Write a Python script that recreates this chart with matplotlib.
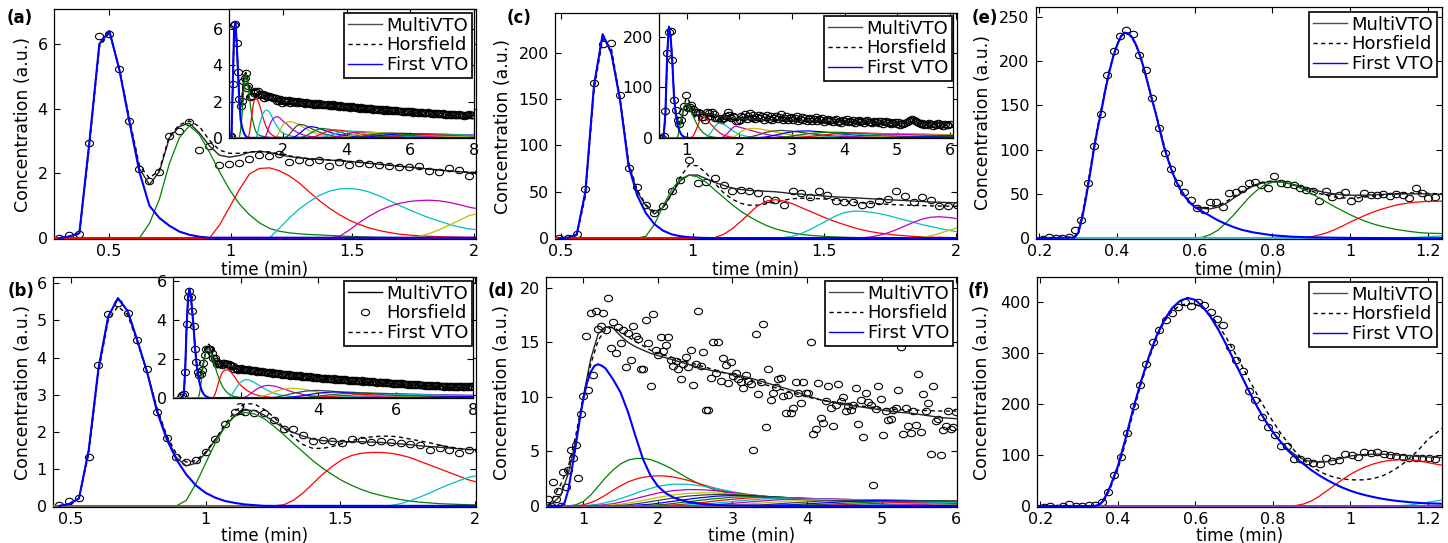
import numpy as np
import matplotlib
matplotlib.use('Agg')
import matplotlib.pyplot as plt
from matplotlib.lines import Line2D
from matplotlib.path import Path
from matplotlib.ticker import FuncFormatter

plt.rcParams['font.family'] = ['DejaVu Sans']

W, H = 1448, 543
# MATLAB default colour order (component k uses CYCLE[k % 7])
CYCLE = ['#0000ff', '#008000', '#ff0000', '#00bfbf', '#bf00bf', '#bfbf00', '#404040']
LABELS = ['MultiVTO', 'Horsfield', 'First VTO']
DASH = (0, (3, 2.5))

# ---------------------------------------------------------------- panel (a)
A_T0, A_DT = 0.296, 0.0411
A_Y = [0.00, 0.10, 0.12, 2.95, 6.24, 6.30, 5.22, 3.63, 2.14, 1.77,
       2.04, 3.14, 3.31, 3.60, 2.73, 2.86, 2.25, 2.30, 2.32, 2.45,
       2.57, 2.55, 2.61, 2.34, 2.42, 2.35, 2.42, 2.22, 2.35, 2.27,
       2.32, 2.30, 2.27, 2.24, 2.19, 2.19, 2.22, 2.06, 2.03, 2.16,
       2.09, 1.91,
       2.05, 2.10, 1.98, 2.02, 2.08, 1.95, 2.01, 1.99, 2.06, 1.93,
       1.97, 2.03, 1.90, 1.96, 2.00, 1.92, 1.88, 1.97, 1.91, 1.94,
       1.86, 1.93, 1.89, 1.84, 1.92, 1.87, 1.81, 1.90, 1.85, 1.83,
       1.88, 1.79, 1.84, 1.80, 1.86, 1.76, 1.82, 1.78, 1.85, 1.74,
       1.80, 1.77, 1.72, 1.81, 1.75, 1.70, 1.78, 1.73, 1.69, 1.76,
       1.71, 1.67, 1.74, 1.68, 1.72, 1.63, 1.70, 1.66, 1.61, 1.69,
       1.64, 1.67, 1.60, 1.65, 1.58, 1.63, 1.60, 1.66, 1.56, 1.61,
       1.58, 1.62, 1.55, 1.59, 1.53, 1.60, 1.56, 1.51, 1.57, 1.54,
       1.50, 1.55, 1.52, 1.48, 1.54, 1.49, 1.53, 1.46, 1.50, 1.47,
       1.51, 1.44, 1.48, 1.45, 1.50, 1.42, 1.46, 1.43, 1.47, 1.40,
       1.44, 1.41, 1.45, 1.38, 1.42, 1.39, 1.43, 1.36, 1.40, 1.37,
       1.41, 1.35, 1.38, 1.34, 1.39, 1.33, 1.36, 1.32, 1.37, 1.30,
       1.34, 1.31, 1.35, 1.28, 1.33, 1.29, 1.32, 1.27, 1.31, 1.28,
       1.30, 1.26, 1.29, 1.25, 1.31, 1.24, 1.27, 1.29, 1.23, 1.26,
       1.28, 1.25, 1.30, 1.27, 1.24, 1.28]
A_FIT_N = 42
A_FIT_T_EXTRA = [2.5, 3.0, 3.5, 4.0, 4.5, 5.0, 5.5, 6.0, 6.5, 7.0, 7.5, 8.0]
A_MULTI = [0.00, 0.05, 0.15, 2.95, 6.00, 6.40, 5.20, 3.60, 2.15, 1.65,
           2.05, 3.10, 3.45, 3.55, 3.25, 2.85, 2.56, 2.50, 2.55, 2.65,
           2.68, 2.65, 2.57, 2.52, 2.48, 2.45, 2.43, 2.41, 2.39, 2.37,
           2.34, 2.31, 2.28, 2.25, 2.22, 2.19, 2.16, 2.13, 2.10, 2.07,
           2.05, 2.03,
           1.93, 1.86, 1.80, 1.72, 1.65, 1.58, 1.52, 1.46, 1.40, 1.35, 1.30, 1.26]
A_HORS = [0.00, 0.05, 0.12, 2.85, 5.90, 6.35, 5.25, 3.70, 2.25, 1.85,
          2.10, 3.15, 3.50, 3.62, 3.45, 3.02, 2.72, 2.62, 2.62, 2.66,
          2.68, 2.66, 2.60, 2.54, 2.49, 2.45, 2.43, 2.41, 2.39, 2.37,
          2.34, 2.31, 2.28, 2.25, 2.22, 2.19, 2.16, 2.13, 2.10, 2.07,
          2.05, 2.03,
          1.93, 1.86, 1.80, 1.72, 1.65, 1.58, 1.52, 1.46, 1.40, 1.35, 1.30, 1.26]
A_VTO = [0.00, 0.05, 0.15, 2.95, 6.00, 6.40, 5.20, 3.60, 2.05, 1.00,
         0.62, 0.38, 0.20, 0.10, 0.04, 0.01]
A_COMPS = [
    ([0.625, 0.666, 0.707, 0.748, 0.789, 0.830, 0.871, 0.913, 0.954, 0.995, 1.036,
      1.077, 1.118, 1.159, 1.200, 1.241, 1.282, 1.324, 1.406, 1.488, 1.611, 1.8],
     [0, 0.45, 1.2, 2.3, 3.1, 3.47, 3.2, 2.65, 2.05, 1.5, 1.05,
      0.72, 0.47, 0.3, 0.21, 0.16, 0.13, 0.11, 0.08, 0.05, 0.02, 0.005]),
    ([0.913, 0.954, 0.995, 1.036, 1.077, 1.118, 1.159, 1.200, 1.241, 1.282, 1.324, 1.365,
      1.406, 1.447, 1.488, 1.529, 1.570, 1.611, 1.652, 1.693, 1.734, 1.776, 1.858, 1.981, 2.3],
     [0, 0.4, 0.95, 1.5, 1.98, 2.15, 2.17, 2.08, 1.92, 1.7, 1.42, 1.15,
      0.92, 0.72, 0.55, 0.42, 0.31, 0.23, 0.17, 0.12, 0.09, 0.07, 0.04, 0.02, 0]),
    ([1.159, 1.200, 1.241, 1.282, 1.324, 1.365, 1.406, 1.447, 1.488, 1.529, 1.570, 1.611,
      1.652, 1.693, 1.734, 1.776, 1.817, 1.858, 1.899, 1.940, 1.981, 2.2, 2.4, 2.6, 3.0],
     [0, 0.3, 0.62, 0.9, 1.13, 1.32, 1.45, 1.52, 1.53, 1.5, 1.42, 1.3,
      1.16, 1.01, 0.87, 0.74, 0.62, 0.52, 0.42, 0.34, 0.28, 0.13, 0.06, 0.03, 0]),
    ([1.406, 1.447, 1.488, 1.529, 1.570, 1.611, 1.652, 1.693, 1.734, 1.776, 1.817, 1.858,
      1.899, 1.940, 1.981, 2.1, 2.2, 2.3, 2.45, 2.6, 2.8, 3.0, 3.4],
     [0, 0.05, 0.25, 0.48, 0.68, 0.85, 0.98, 1.07, 1.13, 1.16, 1.17, 1.15,
      1.1, 1.03, 0.95, 0.8, 0.62, 0.47, 0.3, 0.19, 0.1, 0.05, 0.01]),
    ([1.734, 1.776, 1.817, 1.858, 1.899, 1.940, 1.981, 2.1, 2.2, 2.3, 2.45, 2.6, 2.8,
      3.0, 3.3, 3.7, 4.2],
     [0, 0.06, 0.14, 0.26, 0.4, 0.55, 0.7, 0.86, 0.9, 0.88, 0.78, 0.62, 0.42,
      0.27, 0.13, 0.05, 0.01]),
    ([2.0, 2.1, 2.2, 2.3, 2.4, 2.5, 2.65, 2.8, 3.0, 3.3, 3.6, 4.0, 4.6],
     [0, 0.05, 0.2, 0.42, 0.62, 0.75, 0.72, 0.6, 0.42, 0.22, 0.1, 0.04, 0.01]),
    ([2.25, 2.4, 2.55, 2.7, 2.85, 3.05, 3.3, 3.6, 4.0, 4.5, 5.2],
     [0, 0.1, 0.3, 0.52, 0.63, 0.58, 0.42, 0.25, 0.11, 0.04, 0.01]),
    ([2.5, 2.7, 2.9, 3.05, 3.2, 3.45, 3.75, 4.1, 4.6, 5.2],
     [0, 0.1, 0.3, 0.45, 0.53, 0.48, 0.33, 0.18, 0.07, 0.02]),
    ([2.8, 3.0, 3.2, 3.4, 3.6, 3.9, 4.2, 4.6, 5.1, 5.8],
     [0, 0.08, 0.22, 0.37, 0.45, 0.41, 0.3, 0.17, 0.08, 0.02]),
    ([3.1, 3.35, 3.6, 3.8, 4.0, 4.35, 4.7, 5.1, 5.7, 6.5],
     [0, 0.08, 0.22, 0.33, 0.39, 0.36, 0.27, 0.16, 0.07, 0.02]),
    ([3.4, 3.7, 3.95, 4.2, 4.45, 4.85, 5.25, 5.7, 6.3, 7.2],
     [0, 0.08, 0.2, 0.3, 0.34, 0.31, 0.23, 0.14, 0.07, 0.02]),
    ([3.7, 4.0, 4.3, 4.6, 4.9, 5.35, 5.8, 6.3, 7.0, 8.0],
     [0, 0.07, 0.18, 0.27, 0.3, 0.28, 0.21, 0.13, 0.06, 0.02]),
    ([4.0, 4.35, 4.7, 5.05, 5.4, 5.9, 6.4, 7.0, 8.0],
     [0, 0.06, 0.16, 0.24, 0.27, 0.25, 0.19, 0.12, 0.05]),
    ([4.3, 4.7, 5.1, 5.5, 5.9, 6.5, 7.1, 8.0],
     [0, 0.06, 0.15, 0.21, 0.24, 0.22, 0.17, 0.1]),
    ([4.6, 5.0, 5.5, 5.95, 6.4, 7.0, 7.6, 8.0],
     [0, 0.05, 0.13, 0.19, 0.22, 0.21, 0.17, 0.14]),
    ([4.9, 5.4, 5.9, 6.5, 7.0, 7.6, 8.0],
     [0, 0.05, 0.12, 0.18, 0.2, 0.19, 0.17]),
    ([5.2, 5.8, 6.4, 7.0, 7.6, 8.0], [0, 0.05, 0.11, 0.16, 0.18, 0.18]),
    ([5.6, 6.2, 6.8, 7.4, 8.0], [0, 0.04, 0.09, 0.13, 0.15]),
    ([6.0, 6.6, 7.2, 8.0], [0, 0.03, 0.07, 0.11]),
]

# ---------------------------------------------------------------- panel (b)
B_T0, B_DT = 0.457, 0.0362
B_Y = [0.03, 0.13, 0.21, 1.31, 3.79, 5.17, 5.47, 5.2, 4.46, 3.68,
       2.53, 1.82, 1.32, 1.17, 1.23, 1.46, 1.8, 2.2, 2.53, 2.53,
       2.51, 2.5, 2.32, 2.07, 2.07, 1.91, 1.75, 1.78, 1.75, 1.69,
       1.8, 1.78, 1.73, 1.74, 1.73, 1.69, 1.66, 1.64, 1.5, 1.55,
       1.51, 1.42, 1.5,
       1.52, 1.46, 1.50, 1.45, 1.41, 1.48, 1.43, 1.39, 1.44, 1.38,
       1.42, 1.35, 1.40, 1.37, 1.33, 1.38, 1.31, 1.35, 1.32, 1.29,
       1.33, 1.28, 1.31, 1.24, 1.29, 1.26, 1.22, 1.27, 1.24, 1.20,
       1.25, 1.19, 1.22, 1.18, 1.21, 1.15, 1.20, 1.16, 1.13, 1.18,
       1.14, 1.11, 1.16, 1.10, 1.13, 1.08, 1.12, 1.09, 1.06, 1.11,
       1.07, 1.04, 1.09, 1.03, 1.06, 1.01, 1.05, 1.02, 0.99, 1.04,
       1.00, 0.97, 1.02, 0.96, 0.99, 0.95, 1.00, 0.94, 0.97, 0.93,
       0.98, 0.92, 0.95, 0.91, 0.96, 0.90, 0.93, 0.89, 0.94, 0.88,
       0.91, 0.87, 0.92, 0.86, 0.89, 0.85, 0.90, 0.84, 0.87, 0.85,
       0.88, 0.82, 0.86, 0.81, 0.85, 0.80, 0.84, 0.79, 0.83, 0.80,
       0.82, 0.77, 0.81, 0.76, 0.80, 0.75, 0.79, 0.76, 0.74, 0.78,
       0.74, 0.77, 0.72, 0.75, 0.71, 0.76, 0.70, 0.73, 0.71, 0.69,
       0.73, 0.68, 0.71, 0.67, 0.70, 0.66, 0.71, 0.65, 0.68, 0.66,
       0.69, 0.64, 0.67, 0.63, 0.66, 0.62, 0.67, 0.61, 0.64, 0.62,
       0.65, 0.60, 0.63, 0.59, 0.64, 0.58, 0.62, 0.60, 0.57, 0.61,
       0.63, 0.58, 0.60, 0.56, 0.61, 0.57, 0.59, 0.62, 0.58, 0.56,
       0.60, 0.57, 0.61, 0.58, 0.62, 0.59]
B_FIT_N = 43
B_FIT_T_EXTRA = [2.5, 3.0, 3.5, 4.0, 4.5, 5.0, 5.5, 6.0, 6.5, 7.0, 7.5, 8.0]
B_MULTI = [0, 0.05, 0.2, 1.5, 3.7, 5.1, 5.6, 5.25, 4.45, 3.6,
           2.6, 1.85, 1.3, 1.08, 1.15, 1.42, 1.78, 2.15, 2.45, 2.58,
           2.57, 2.45, 2.27, 2.1, 1.98, 1.88, 1.8, 1.76, 1.74, 1.73,
           1.73, 1.73, 1.72, 1.71, 1.69, 1.67, 1.65, 1.62, 1.6, 1.58,
           1.56, 1.54, 1.52,
           1.38, 1.24, 1.13, 1.04, 0.97, 0.9, 0.84, 0.78, 0.72, 0.67, 0.62, 0.59]
B_HORS = [0, 0.05, 0.2, 1.4, 3.6, 5.0, 5.38, 5.15, 4.4, 3.6,
          2.65, 1.9, 1.4, 1.18, 1.22, 1.45, 1.8, 2.2, 2.55, 2.75,
          2.75, 2.6, 2.4, 2.1, 1.85, 1.65, 1.55, 1.55, 1.6, 1.68,
          1.76, 1.82, 1.86, 1.88, 1.88, 1.85, 1.8, 1.75, 1.7, 1.64,
          1.59, 1.55, 1.52,
          1.4, 1.25, 1.14, 1.05, 0.97, 0.9, 0.84, 0.78, 0.72, 0.67, 0.63, 0.6]
B_VTO = [0, 0.05, 0.2, 1.5, 3.7, 5.1, 5.6, 5.25, 4.45, 3.6,
         2.55, 1.8, 1.25, 0.85, 0.55, 0.35, 0.22, 0.13, 0.08, 0.04, 0.02, 0]
B_COMPS = [
    ([0.891, 0.928, 0.964, 1.000, 1.036, 1.073, 1.109, 1.145, 1.181, 1.217, 1.253, 1.290,
      1.326, 1.362, 1.398, 1.434, 1.471, 1.507, 1.543, 1.579, 1.615, 1.652, 1.688, 1.724,
      1.760, 1.796, 1.869, 1.941, 1.977, 2.1, 2.4],
     [0, 0.15, 0.6, 1.15, 1.7, 2.15, 2.42, 2.52, 2.48, 2.35, 2.15, 1.92,
      1.68, 1.45, 1.22, 1.02, 0.84, 0.68, 0.55, 0.44, 0.35, 0.28, 0.22, 0.17,
      0.13, 0.1, 0.06, 0.04, 0.03, 0.02, 0]),
    ([1.253, 1.290, 1.326, 1.362, 1.398, 1.434, 1.471, 1.507, 1.543, 1.579, 1.615, 1.652,
      1.688, 1.724, 1.760, 1.796, 1.833, 1.869, 1.905, 1.941, 1.977, 2.05, 2.15, 2.3,
      2.5, 2.8, 3.2],
     [0, 0.03, 0.15, 0.35, 0.6, 0.85, 1.07, 1.25, 1.36, 1.42, 1.44, 1.44,
      1.42, 1.37, 1.3, 1.2, 1.1, 1.0, 0.9, 0.8, 0.7, 0.56, 0.4, 0.23,
      0.1, 0.03, 0]),
    ([1.652, 1.688, 1.724, 1.760, 1.796, 1.833, 1.869, 1.905, 1.941, 1.977, 2.05, 2.12,
      2.2, 2.3, 2.45, 2.6, 2.8, 3.0, 3.3, 3.7, 4.2],
     [0, 0.01, 0.06, 0.14, 0.24, 0.35, 0.47, 0.58, 0.68, 0.77, 0.88, 0.94,
      0.93, 0.85, 0.68, 0.49, 0.29, 0.16, 0.07, 0.02, 0]),
    ([2.0, 2.1, 2.2, 2.3, 2.45, 2.6, 2.72, 2.9, 3.1, 3.35, 3.7, 4.1, 4.6],
     [0, 0.04, 0.14, 0.3, 0.5, 0.62, 0.65, 0.6, 0.47, 0.3, 0.14, 0.05, 0.01]),
    ([2.35, 2.5, 2.7, 2.9, 3.1, 3.3, 3.55, 3.85, 4.2, 4.6, 5.1, 5.6],
     [0, 0.05, 0.18, 0.34, 0.45, 0.5, 0.47, 0.36, 0.22, 0.11, 0.04, 0.01]),
    ([2.7, 2.9, 3.15, 3.4, 3.7, 3.95, 4.3, 4.7, 5.2, 5.8, 6.5],
     [0, 0.04, 0.14, 0.26, 0.36, 0.39, 0.36, 0.27, 0.16, 0.07, 0.02]),
    ([3.0, 3.3, 3.6, 3.9, 4.2, 4.5, 4.9, 5.4, 6.0, 6.7, 7.5],
     [0, 0.04, 0.12, 0.22, 0.29, 0.31, 0.29, 0.22, 0.13, 0.06, 0.02]),
    ([3.3, 3.7, 4.1, 4.5, 4.9, 5.3, 5.8, 6.4, 7.1, 8.0],
     [0, 0.04, 0.12, 0.2, 0.25, 0.26, 0.23, 0.16, 0.09, 0.04]),
    ([3.6, 4.0, 4.5, 5.0, 5.5, 6.0, 6.6, 7.3, 8.0],
     [0, 0.03, 0.1, 0.17, 0.21, 0.22, 0.19, 0.13, 0.08]),
    ([4.0, 4.5, 5.0, 5.6, 6.2, 6.8, 7.4, 8.0],
     [0, 0.03, 0.08, 0.14, 0.18, 0.18, 0.16, 0.12]),
    ([4.4, 5.0, 5.6, 6.2, 6.9, 7.5, 8.0], [0, 0.03, 0.07, 0.11, 0.14, 0.15, 0.14]),
    ([4.8, 5.5, 6.2, 6.9, 7.5, 8.0], [0, 0.03, 0.06, 0.09, 0.11, 0.12]),
    ([5.3, 6.0, 6.7, 7.4, 8.0], [0, 0.02, 0.05, 0.08, 0.1]),
    ([5.8, 6.6, 7.3, 8.0], [0, 0.02, 0.05, 0.07]),
]

# ---------------------------------------------------------------- panel (c)
C_T0, C_DT = 0.494, 0.0328
C_Y = [0, 0, 4.7, 53, 167, 209, 211, 154, 76, 55,
       35.5, 27, 35, 50.5, 63, 84, 59.5, 60.6, 65, 57,
       50.5, 52.3, 51.3, 48.7, 42.3, 41.6, 36.2, 50.5, 48.7, 44.4,
       50.5, 47, 39.8, 39, 39, 35.5, 37.3, 39.8, 42.7, 50.5,
       45.2, 38.7, 44.4, 40.9, 34.4, 34.4, 36.2,
       44, 41, 47, 38, 43, 49, 40, 45, 37, 42,
       46, 39, 44, 36, 41, 45, 38, 43, 35, 40,
       44, 37, 41, 47, 36, 40, 43, 35, 39, 42,
       36, 40, 44, 34, 38, 41, 35, 39, 33, 37,
       40, 34, 38, 42, 33, 37, 35, 39, 32, 36,
       38, 33, 36, 31, 35, 38, 32, 34, 30, 36,
       33, 37, 31, 34, 32, 36, 30, 33, 35, 31,
       34, 30, 33, 36, 31, 32, 29, 34, 31, 33,
       30, 33, 28, 32, 34, 29, 31, 27, 30, 32,
       28, 31, 26, 29, 27, 30, 32, 34, 36, 38,
       36, 34, 31, 29, 27, 30, 26, 28, 25, 29,
       27, 24, 28, 26, 29, 25, 27, 23, 28, 26,
       25, 27]
C_FIT_N = 47
C_FIT_T_EXTRA = [2.5, 3.0, 3.5, 4.0, 4.5, 5.0, 5.5, 6.0]
C_MULTI = [0, 0.5, 4, 50, 165, 220, 200, 150, 80, 50,
           35, 26, 33, 48, 62, 68, 68, 64, 60, 57,
           54, 52.5, 51.5, 51, 50.5, 50, 49, 48, 47.5, 46.5,
           46, 45, 44.5, 44, 43.5, 43, 42.5, 42, 41.5, 41,
           40.5, 40, 39.5, 39, 38.7, 38.4, 38,
           36, 34.5, 33, 32, 31, 30, 29, 28]
C_HORS = [0, 0.5, 3, 45, 160, 215, 205, 152, 82, 52,
          36, 28, 33, 47, 66, 79, 78, 70, 59, 49,
          42, 37.5, 35.5, 35.5, 37, 39, 41, 42.5, 43, 43,
          42.5, 42, 41, 40, 39, 38, 37.5, 37, 36.5, 36,
          35.5, 35.3, 35, 34.8, 34.6, 34.5, 34.4,
          34, 33.5, 32.5, 31.5, 30.5, 29.5, 28.8, 28]
C_VTO = [0, 0.5, 4, 50, 165, 220, 200, 150, 78, 46,
         27, 15, 8, 4, 2, 1, 0.4, 0.1, 0]
C_COMPS = [
    ([0.789, 0.822, 0.855, 0.888, 0.920, 0.953, 0.986, 1.019, 1.052, 1.084, 1.117, 1.150,
      1.183, 1.216, 1.248, 1.281, 1.314, 1.347, 1.380, 1.412, 1.445, 1.511, 1.609, 1.740, 2.0],
     [0, 2, 15, 35, 52, 64, 68, 66, 60, 52, 44, 36,
      29, 23, 18, 13.5, 10, 7.5, 5.5, 4, 3, 1.6, 0.6, 0.15, 0]),
    ([1.052, 1.084, 1.117, 1.150, 1.183, 1.216, 1.248, 1.281, 1.314, 1.347, 1.380, 1.412,
      1.445, 1.478, 1.511, 1.544, 1.576, 1.609, 1.642, 1.675, 1.708, 1.773, 1.839, 1.904,
      2.003, 2.3],
     [0, 0.5, 4, 10, 18, 27, 35, 40, 41.5, 40, 37, 33,
      29, 25, 21, 17.5, 14.5, 11.5, 9, 7, 5.5, 3.2, 1.8, 1,
      0.4, 0]),
    ([1.314, 1.347, 1.380, 1.412, 1.445, 1.478, 1.511, 1.544, 1.576, 1.609, 1.642, 1.675,
      1.708, 1.740, 1.773, 1.806, 1.839, 1.872, 1.904, 1.937, 1.970, 2.003, 2.1, 2.25,
      2.45, 2.8],
     [0, 0.5, 2, 5, 9, 14, 19, 24, 27.5, 29, 29, 28,
      26.5, 24.5, 22, 19.5, 17, 14.5, 12.5, 10.5, 8.5, 7, 4, 1.8,
      0.6, 0]),
    ([1.609, 1.642, 1.675, 1.708, 1.740, 1.773, 1.806, 1.839, 1.872, 1.904, 1.937, 1.970,
      2.003, 2.05, 2.15, 2.3, 2.45, 2.6, 2.8, 3.1, 3.5, 4.0],
     [0, 0.3, 1.2, 3, 5.5, 9, 13, 17, 20.5, 22.5, 23, 22.3,
      21, 20, 17, 12.5, 8.5, 5.5, 3, 1.2, 0.4, 0]),
    ([1.839, 1.872, 1.904, 1.937, 1.970, 2.003, 2.05, 2.15, 2.25, 2.35, 2.5, 2.65,
      2.85, 3.1, 3.4, 3.8, 4.4, 5.0],
     [0, 0.8, 2.5, 5, 8, 11, 14, 17.5, 19, 18.5, 16, 12.5,
      8.5, 5, 2.6, 1, 0.3, 0]),
    ([2.05, 2.2, 2.35, 2.5, 2.65, 2.8, 3.0, 3.25, 3.55, 3.9, 4.4, 5.0],
     [0, 2, 6, 11, 14, 15, 13.5, 10, 6, 3, 1.2, 0.4]),
    ([2.3, 2.5, 2.7, 2.9, 3.1, 3.3, 3.6, 3.9, 4.3, 4.8, 5.5, 6.06],
     [0, 2, 6, 10.5, 13.5, 14, 12, 8.5, 5, 2.4, 0.9, 0.5]),
    ([2.6, 2.85, 3.1, 3.35, 3.6, 3.85, 4.2, 4.6, 5.1, 5.7, 6.06],
     [0, 2, 5.5, 9, 11, 11.5, 10, 7, 4, 2, 1.3]),
    ([2.9, 3.2, 3.5, 3.8, 4.1, 4.4, 4.8, 5.3, 5.8, 6.06],
     [0, 1.8, 5, 8, 9.5, 9.8, 8.5, 6, 3.8, 3]),
    ([3.2, 3.55, 3.9, 4.25, 4.6, 5.0, 5.5, 6.06], [0, 1.5, 4.2, 6.8, 8.2, 8.5, 7.3, 5.3]),
    ([3.5, 3.9, 4.3, 4.7, 5.1, 5.5, 6.06], [0, 1.3, 3.6, 5.8, 7, 7.3, 6.5]),
    ([3.9, 4.3, 4.8, 5.3, 5.8, 6.06], [0, 1.1, 3.2, 5.2, 6.2, 6.4]),
    ([4.2, 4.7, 5.2, 5.7, 6.06], [0, 1, 2.8, 4.4, 5.2]),
    ([4.6, 5.1, 5.6, 6.06], [0, 0.9, 2.4, 3.6]),
    ([5.0, 5.5, 6.06], [0, 0.8, 2.2]),
]

# ---------------------------------------------------------------- panel (d)
D_T0, D_DT = 0.53, 0.0335
D_Y = [0.6, 0.0, 2.2, 0.6, 1.4, 0.0, 3.1, 1.7, 3.3, 5.1,
       4.4, 5.6, 2.6, 8.4, 10.1, 15.6, 10.6, 17.7, 12.0, 17.9,
       16.2, 16.5, 17.7, 16.1, 19.1, 14.5, 16.9, 14.0, 16.4, 14.9,
       16.1, 12.7, 15.9, 13.4, 16.5, 15.6, 15.3, 12.6, 12.6, 17.1,
       14.9, 11.0, 17.6, 14.3, 13.8, 15.5, 14.2, 14.8, 15.5, 13.4,
       12.8, 13.3, 12.6, 11.6, 13.0, 13.7, 12.7, 14.3, 11.1, 13.0,
       17.9, 12.8, 14.1, 8.8, 8.8, 11.7, 15.0, 12.2, 15.0, 11.5,
       13.6, 12.9, 11.3, 13.2, 11.9, 12.2, 11.6, 11.4, 10.8, 12.0,
       11.5, 11.2, 5.1, 15.8, 10.3, 11.4, 16.7, 7.2, 12.6, 9.7,
       10.4, 10.9, 11.6, 11.7, 10.1, 8.5, 10.2, 8.5, 9.0, 11.4,
       10.4, 9.4, 11.4, 10.4, 10.4, 15.0, 6.6, 7.1, 11.3, 8.1,
       7.6, 9.6, 11.0, 9.0, 7.3, 9.3, 11.2, 9.6, 10.0, 8.7,
       9.2, 8.8, 9.3, 10.8, 7.5, 9.7, 6.3, 10.4, 9.5, 9.3,
       1.9, 8.9, 11.0, 9.8, 6.5, 8.7, 7.9, 8.0, 8.8, 9.0,
       10.6, 14.6, 6.6, 9.0, 7.3, 6.7, 8.7, 7.4, 12.1, 6.8,
       10.3, 8.7, 9.4, 4.8, 11.0, 7.8, 8.0, 4.7, 7.0, 7.3,
       8.7, 7.1, 7.2, 8.6]
D_FIT_T = [0.53, 0.6, 0.7, 0.8, 0.9, 1.0, 1.1, 1.2, 1.3, 1.35, 1.4, 1.5, 1.6, 1.7, 1.8,
           1.9, 2.0, 2.2, 2.4, 2.6, 2.8, 3.0, 3.2, 3.4, 3.6, 3.8, 4.0, 4.2, 4.4, 4.6,
           4.8, 5.0, 5.2, 5.4, 5.6, 5.8, 6.0]
D_MULTI = [0, 0.3, 1.0, 3.0, 6.0, 10.0, 13.5, 15.8, 16.4, 16.45, 16.3, 15.6, 15.0, 14.6,
           14.3, 14.0, 13.8, 13.4, 13.0, 12.6, 12.3, 12.1, 11.8, 11.4, 11.0, 10.6, 10.1,
           9.7, 9.4, 9.2, 9.0, 8.8, 8.6, 8.5, 8.3, 8.1, 8.0]
D_HORS = [0, 0.8, 2.0, 3.6, 6.5, 10.0, 13.0, 15.2, 16.2, 16.35, 16.4, 16.0, 15.5, 15.1,
          14.7, 14.3, 14.0, 13.6, 13.2, 12.8, 12.4, 12.0, 11.6, 11.2, 10.8, 10.4, 10.0,
          9.7, 9.5, 9.3, 9.1, 8.95, 8.85, 8.8, 8.75, 8.7, 8.7]
D_VTO_T = [0.53, 0.7, 0.75, 0.8, 0.85, 0.9, 0.95, 1.0, 1.05, 1.1, 1.15, 1.2, 1.25, 1.3,
           1.4, 1.5, 1.6, 1.7, 1.8, 1.9, 2.0, 2.1, 2.2, 2.3, 2.4, 2.6, 2.8, 3.0, 3.5, 6.0]
D_VTO = [0, 0, 0.3, 1.5, 3.5, 5.6, 7.8, 9.8, 11.3, 12.3, 12.85, 13.0, 12.85, 12.6,
         11.6, 10.4, 8.6, 6.4, 4.3, 2.8, 1.8, 1.2, 0.8, 0.55, 0.38, 0.18, 0.08, 0.04, 0.01, 0]
D_COMPS = [
    ([0.8, 0.9, 1.0, 1.1, 1.2, 1.3, 1.4, 1.5, 1.6, 1.7, 1.8, 1.9, 2.0, 2.1, 2.2, 2.3, 2.4,
      2.5, 2.6, 2.8, 3.0, 3.2, 3.5, 4.0, 4.5, 5.0, 5.5, 6.0],
     [0, 0.1, 0.4, 1.0, 1.8, 2.6, 3.3, 3.85, 4.2, 4.35, 4.36, 4.25, 4.0, 3.7, 3.35, 2.95,
      2.55, 2.2, 1.88, 1.4, 1.1, 0.9, 0.7, 0.55, 0.48, 0.44, 0.42, 0.4]),
    ([0.9, 1.0, 1.1, 1.2, 1.3, 1.4, 1.5, 1.6, 1.7, 1.8, 1.9, 2.0, 2.1, 2.2, 2.3, 2.4, 2.6,
      2.8, 3.0, 3.2, 3.5, 4.0, 4.5, 5.0, 6.0],
     [0, 0.1, 0.3, 0.6, 1.0, 1.45, 1.85, 2.2, 2.45, 2.62, 2.72, 2.76, 2.74, 2.66, 2.52,
      2.35, 1.95, 1.55, 1.22, 0.98, 0.75, 0.55, 0.45, 0.4, 0.35]),
    ([1.0, 1.2, 1.4, 1.6, 1.8, 2.0, 2.2, 2.4, 2.6, 2.8, 3.0, 3.2, 3.5, 4.0, 4.5, 5.0, 6.0],
     [0.02, 0.15, 0.45, 0.9, 1.4, 1.8, 2.0, 1.98, 1.82, 1.58, 1.3, 1.07, 0.82, 0.58, 0.47,
      0.41, 0.36]),
    ([1.0, 1.2, 1.4, 1.6, 1.8, 2.0, 2.2, 2.4, 2.6, 2.8, 3.0, 3.2, 3.5, 4.0, 4.5, 5.0, 6.0],
     [0, 0.05, 0.2, 0.5, 0.85, 1.18, 1.4, 1.5, 1.48, 1.38, 1.22, 1.05, 0.85, 0.62, 0.5,
      0.43, 0.36]),
    ([1.2, 1.4, 1.6, 1.8, 2.0, 2.2, 2.4, 2.6, 2.8, 3.0, 3.2, 3.5, 4.0, 4.5, 5.0, 6.0],
     [0.01, 0.08, 0.25, 0.5, 0.78, 1.0, 1.15, 1.2, 1.18, 1.1, 1.0, 0.85, 0.65, 0.52, 0.45,
      0.38]),
    ([1.4, 1.6, 1.8, 2.0, 2.2, 2.4, 2.6, 2.8, 3.0, 3.2, 3.5, 4.0, 4.5, 5.0, 6.0],
     [0.02, 0.1, 0.28, 0.5, 0.72, 0.9, 1.0, 1.05, 1.03, 0.97, 0.85, 0.67, 0.55, 0.47, 0.4]),
    ([1.6, 1.9, 2.2, 2.5, 2.8, 3.0, 3.3, 3.7, 4.2, 5.0, 6.0],
     [0.02, 0.15, 0.42, 0.7, 0.9, 0.95, 0.9, 0.76, 0.6, 0.45, 0.36]),
    ([1.8, 2.1, 2.4, 2.7, 3.0, 3.2, 3.6, 4.0, 4.6, 5.3, 6.0],
     [0.02, 0.14, 0.38, 0.62, 0.8, 0.85, 0.8, 0.68, 0.54, 0.44, 0.38]),
    ([2.0, 2.3, 2.6, 2.9, 3.2, 3.4, 3.8, 4.3, 5.0, 6.0],
     [0.02, 0.12, 0.32, 0.55, 0.72, 0.78, 0.74, 0.63, 0.5, 0.4]),
    ([2.2, 2.5, 2.8, 3.1, 3.4, 3.6, 4.0, 4.5, 5.2, 6.0],
     [0.01, 0.1, 0.27, 0.47, 0.63, 0.7, 0.68, 0.6, 0.49, 0.41]),
    ([2.4, 2.8, 3.2, 3.6, 3.9, 4.4, 5.0, 6.0], [0.01, 0.12, 0.35, 0.56, 0.64, 0.61, 0.53, 0.42]),
    ([2.7, 3.1, 3.5, 3.9, 4.2, 4.7, 5.3, 6.0], [0.01, 0.12, 0.32, 0.5, 0.58, 0.57, 0.51, 0.44]),
    ([3.0, 3.4, 3.8, 4.2, 4.5, 5.0, 5.6, 6.0], [0.01, 0.1, 0.28, 0.45, 0.52, 0.52, 0.48, 0.45]),
    ([3.3, 3.8, 4.2, 4.6, 4.9, 5.5, 6.0], [0.01, 0.11, 0.27, 0.42, 0.48, 0.48, 0.46]),
    ([3.6, 4.1, 4.6, 5.1, 5.5, 6.0], [0.01, 0.1, 0.27, 0.4, 0.45, 0.46]),
    ([3.9, 4.4, 4.9, 5.4, 6.0], [0.01, 0.08, 0.22, 0.35, 0.43]),
    ([4.2, 4.8, 5.3, 6.0], [0, 0.07, 0.18, 0.33]),
    ([4.6, 5.2, 6.0], [0, 0.06, 0.22]),
    ([5.0, 5.5, 6.0], [0, 0.04, 0.12]),
    ([5.4, 6.0], [0, 0.06]),
]

# ---------------------------------------------------------------- panel (e)
E_T0, E_DT = 0.2086, 0.01656
E_Y = [-0.5, 0.8, 0, 0.3, 0.8, 9, 21, 62, 104, 140,
       184, 211, 228, 235, 230, 207, 190, 158, 124, 96,
       78, 62, 52, 43.5, 34, 31.5, 40.5, 40.5, 35, 51,
       52, 55.5, 62, 63, 60.5, 56.7, 70, 62, 61, 60.5,
       56.7, 54.8, 53, 41.7, 53, 46.5, 49, 51.8, 41.7, 45.4,
       51, 49, 49, 50.3, 47.3, 50.3, 49, 45.4, 56.7, 51,
       45.4, 46.5]
E_RISE_T = [0.19, 0.29, 0.30, 0.31, 0.32, 0.33, 0.34, 0.35, 0.36, 0.37, 0.38, 0.39, 0.40,
            0.41, 0.42, 0.43, 0.44, 0.45, 0.46, 0.47, 0.48, 0.49, 0.50, 0.51, 0.52, 0.53,
            0.54, 0.55, 0.56, 0.57, 0.58, 0.59, 0.60]
E_VTO = [0, 0.5, 6, 23, 46, 72, 100, 124, 145, 168, 188, 205, 218, 228, 232, 231, 226,
         217, 205, 190, 173, 156, 140, 122, 104, 90, 77, 66, 57, 50, 44, 39, 35,
         30, 25, 20, 16, 12.5, 9.5, 6.5, 3.2, 1.6, 0.8, 0.2, 0, 0]
E_VTO_TAIL_T = [0.62, 0.64, 0.66, 0.68, 0.70, 0.72, 0.75, 0.80, 0.85, 0.90, 1.00, 1.10, 1.237]
E_FIT_TAIL_T = [0.62, 0.64, 0.66, 0.68, 0.70, 0.72, 0.74, 0.76, 0.78, 0.80, 0.82, 0.84,
                0.86, 0.88, 0.90, 0.92, 0.94, 0.96, 0.98, 1.00, 1.02, 1.04, 1.06, 1.08,
                1.10, 1.12, 1.14, 1.16, 1.18, 1.20, 1.237]
E_MULTI_TAIL = [33.5, 33, 35, 39, 45, 51, 56.5, 60.5, 63, 64, 63.5, 62, 60, 57.5, 55, 53,
                51.3, 50, 49, 48.5, 48.3, 48.5, 49, 49.3, 49.6, 49.8, 50, 50, 50, 49.8, 49.5]
E_HORS = [0, 1.5, 9, 27, 50, 76, 103, 127, 148, 170, 190, 206, 219, 228, 231, 230, 225,
          216, 204, 190, 174, 157, 141, 124, 107, 92, 79, 68, 59, 51, 45, 40, 36,
          34, 34.5, 37, 41, 46.5, 52, 57, 61, 63.5, 64.5, 64, 62, 59, 56, 53, 50.5, 48.3,
          46.5, 45.5, 45, 45.5, 46.5, 47.5, 48.5, 49.5, 50.2, 50.7, 51, 51, 50.6, 50]
E_COMPS = [
    ([0.60, 0.62, 0.64, 0.66, 0.68, 0.70, 0.72, 0.74, 0.76, 0.78, 0.80, 0.82, 0.84, 0.86,
      0.88, 0.90, 0.92, 0.94, 0.96, 0.98, 1.00, 1.02, 1.04, 1.06, 1.08, 1.10, 1.12, 1.14,
      1.16, 1.18, 1.20, 1.237],
     [0, 1, 4, 9, 17, 26, 36, 46, 54, 60, 63, 63.5, 62, 59, 55, 50.5, 45.5, 40.5, 35.5,
      31, 26.5, 22.5, 19, 16, 13.5, 11.5, 9.8, 8.4, 7.2, 6.2, 5.6, 5.2]),
    ([0.86, 0.88, 0.90, 0.92, 0.94, 0.96, 0.98, 1.00, 1.02, 1.04, 1.06, 1.08, 1.10, 1.12,
      1.14, 1.16, 1.18, 1.20, 1.237],
     [0, 0.5, 1.5, 3.5, 6, 9.5, 13.5, 18, 22, 26, 29.5, 32.5, 35, 37.5, 39, 40.2, 41,
      41.5, 41.7]),
    ([1.10, 1.15, 1.20, 1.237], [0, 0.5, 1.5, 2.5]),
]

# ---------------------------------------------------------------- panel (f)
F_T0, F_DT = 0.2086, 0.01656
F_Y = [-2, 0.7, -3, 0.5, 3.3, 0.5, 0.7, 2, 2, 7,
       27, 61, 97, 143, 197, 238, 278, 321, 346, 364,
       378, 390, 400, 393, 400, 395, 380, 367, 354, 312,
       286, 264, 225, 208, 175, 154, 139, 117, 117, 93,
       92, 89, 84, 83, 95, 89, 91, 102, 100, 97,
       106, 104, 106, 102, 100, 98, 96, 95, 95, 95,
       94, 93]
F_FIT_T = [0.19, 0.34, 0.35, 0.36, 0.37, 0.38,
           0.40, 0.42, 0.44, 0.46, 0.48, 0.50, 0.52, 0.54, 0.56, 0.58,
           0.60, 0.62, 0.64, 0.66, 0.68, 0.70, 0.72, 0.74, 0.76, 0.78,
           0.80, 0.82, 0.84, 0.86, 0.88, 0.90, 0.92, 0.94, 0.96, 0.98,
           1.00, 1.02, 1.04, 1.06, 1.08, 1.10, 1.12, 1.14, 1.16, 1.18,
           1.20, 1.237]
F_MULTI = [0, 0, 2, 8, 22, 38,
           78, 133, 192, 245, 293, 334, 365, 388, 402, 408,
           404, 390, 370, 345, 316, 285, 254, 223, 194, 168,
           145, 126, 111, 99, 91, 87, 86, 87, 90, 94,
           98, 100, 101, 101.5, 101.5, 101, 100, 99, 98, 97,
           96, 95]
F_HORS = [0, 0, 1, 6, 18, 34,
          72, 125, 185, 240, 288, 330, 362, 382, 393, 397,
          396, 388, 374, 354, 330, 303, 275, 246, 218, 191,
          166, 143, 123, 105, 90, 78, 68, 61, 56, 53,
          51.5, 51, 51.5, 54, 58, 65, 74, 85, 98, 113,
          130, 152]
F_VTO = [0, 0, 2, 8, 22, 38,
         78, 133, 192, 245, 293, 334, 365, 388, 402, 408,
         404, 390, 370, 345, 316, 285, 254, 223, 194, 168,
         145, 126, 108, 94, 82, 70, 60, 51, 43, 36,
         30, 25, 21, 17.5, 14.5, 12, 10, 8.5, 7, 6,
         5, 4.5]
F_COMPS = [
    ([0.19, 1.237], [0, 0]),
    ([0.84, 0.86, 0.88, 0.90, 0.92, 0.94, 0.96, 0.98, 1.00, 1.02, 1.04, 1.06, 1.08, 1.10,
      1.12, 1.14, 1.16, 1.18, 1.20, 1.237],
     [0, 1, 4, 10, 19, 30, 41, 52, 62, 70, 77, 82.5, 86.5, 89, 90.5, 91, 90.5, 88.5, 85, 80]),
    ([1.10, 1.15, 1.20, 1.237], [0, 1.5, 7, 12]),
]


# ---------------------------------------------------------------- drawing
theta = np.linspace(0, 2 * np.pi, 33)
RING = Path(np.column_stack([1.25 * np.cos(theta), np.sin(theta)]))  # slightly wide circle
FMT = FuncFormatter(lambda v, p: f'{v:g}')

fig = plt.figure(figsize=(W / 100, H / 100), dpi=100)


def px_axes(l, t, r, b):
    return fig.add_axes([l / W, 1 - b / H, (r - l) / W, (b - t) / H])


def grid(t0, dt, n):
    return t0 + dt * np.arange(n)


def style(ax, xl, yl, xt, yt):
    ax.set_xlim(*xl)
    ax.set_ylim(*yl)
    ax.set_xticks(xt)
    ax.set_yticks(yt)
    ax.xaxis.set_major_formatter(FMT)
    ax.yaxis.set_major_formatter(FMT)
    ax.tick_params(direction='in', top=True, right=True, length=4, width=0.8,
                   labelsize=11.5)
    ax.tick_params(axis='x', pad=3.5)
    ax.tick_params(axis='y', pad=4.5)
    for s in ax.spines.values():
        s.set_linewidth(0.9)


def curves(ax, t, y, multi_t, multi, hors_t, hors, vto_t, vto, comps, base):
    ax.plot(t, y, ls='none', marker=RING, ms=5.8, mfc='none', mec='k', mew=0.8, zorder=3)
    ax.plot(multi_t, multi, color='0.15', lw=1.0, zorder=4)
    ax.plot(hors_t, hors, color='k', lw=1.0, ls=DASH, zorder=4)
    for k, (ct, cy) in enumerate(comps, start=1):
        ax.plot(ct, cy, color=CYCLE[k % 7], lw=0.9, zorder=5)
    ax.axhline(0, color=base, lw=2.2, zorder=5)
    ax.plot(vto_t, vto, color='#0000ff', lw=1.5, zorder=6)


def labels(ax, ylab_x, xlab_y):
    ax.set_xlabel('time (min)', fontsize=12, va='top')
    ax.set_ylabel('Concentration (a.u.)', fontsize=12.5)
    ax.xaxis.set_label_coords(0.5, xlab_y)
    ax.yaxis.set_label_coords(ylab_x, 0.5)


def legend(x_right, y_top, handles):
    leg = fig.legend(handles=handles, labels=LABELS, loc='upper right',
                     bbox_to_anchor=(x_right / W, 1 - y_top / H), fontsize=13,
                     frameon=True, fancybox=False, edgecolor='k', framealpha=1,
                     borderpad=0.2, labelspacing=0.1, handlelength=1.9,
                     handletextpad=0.25, borderaxespad=0)
    leg.get_frame().set_linewidth(1.2)


STD_HANDLES = [Line2D([], [], color='0.3', lw=1),
               Line2D([], [], color='k', lw=1, ls=DASH),
               Line2D([], [], color='#0000ff', lw=1)]
B_HANDLES = [Line2D([], [], color='k', lw=1),
             Line2D([], [], ls='none', marker=RING, ms=5.8, mfc='none', mec='k', mew=0.8),
             Line2D([], [], color='k', lw=1, ls=DASH)]

# (a)
a_t = grid(A_T0, A_DT, len(A_Y))
a_ft = list(a_t[:A_FIT_N]) + A_FIT_T_EXTRA
a_vt = list(a_t[:len(A_VTO)]) + [8.0]
for ax, inset in ((px_axes(54, 9, 476, 239), False), (px_axes(229, 9, 474, 138), True)):
    curves(ax, a_t, A_Y, a_ft, A_MULTI, a_ft, A_HORS, a_vt, A_VTO + [0], A_COMPS, '#ff0000')
    if inset:
        ax.set_facecolor('white')
        style(ax, (0.3, 8), (0, 7.1), [2, 4, 6, 8], [0, 2, 4, 6])
    else:
        style(ax, (0.274, 2.008), (-0.03, 7.08), [0.5, 1, 1.5, 2], [0, 2, 4, 6])
        labels(ax, -0.052, -0.095)

# (b)
b_t = grid(B_T0, B_DT, len(B_Y))
b_ft = list(b_t[:B_FIT_N]) + B_FIT_T_EXTRA
b_vt = list(b_t[:len(B_VTO)]) + [8.0]
for ax, inset in ((px_axes(53, 277, 476, 507), False), (px_axes(173, 277, 473, 398), True)):
    curves(ax, b_t, B_Y, b_ft, B_MULTI, b_ft, B_HORS, b_vt, B_VTO + [0], B_COMPS, '#736552')
    if inset:
        style(ax, (0.25, 8), (0, 6.2), [2, 4, 6, 8], [0, 2, 4, 6])
    else:
        style(ax, (0.433, 2.004), (-0.03, 6.17), [0.5, 1, 1.5, 2], [0, 1, 2, 3, 4, 5, 6])
        labels(ax, -0.05, -0.088)

# (c)
c_t = grid(C_T0, C_DT, len(C_Y))
c_ft = list(c_t[:C_FIT_N]) + C_FIT_T_EXTRA
c_vt = list(c_t[:len(C_VTO)]) + [6.06]
for ax, inset in ((px_axes(555, 13, 957, 239), False), (px_axes(659, 13, 953, 138), True)):
    curves(ax, c_t, C_Y, c_ft, C_MULTI, c_ft, C_HORS, c_vt, C_VTO + [0], C_COMPS, '#ff0000')
    if inset:
        style(ax, (0.47, 6.06), (0, 247), [1, 2, 3, 4, 5, 6], [0, 100, 200])
    else:
        style(ax, (0.477, 2.004), (-1, 243), [0.5, 1, 1.5, 2], [0, 50, 100, 150, 200])
        labels(ax, -0.107, -0.097)

# (d)
ax = px_axes(546, 277, 957, 507)
curves(ax, grid(D_T0, D_DT, len(D_Y)), D_Y, D_FIT_T, D_MULTI, D_FIT_T, D_HORS,
       D_VTO_T, D_VTO, D_COMPS, '#6a4c8c')
style(ax, (0.5, 6.01), (-0.1, 21.0), [1, 2, 3, 4, 5, 6], [0, 5, 10, 15, 20])
labels(ax, -0.085, -0.088)

# (e)
ax = px_axes(1036, 7, 1442, 239)
e_ft = E_RISE_T + E_FIT_TAIL_T
curves(ax, grid(E_T0, E_DT, len(E_Y)), E_Y, e_ft, E_VTO[:len(E_RISE_T)] + E_MULTI_TAIL,
       e_ft, E_HORS, E_RISE_T + E_VTO_TAIL_T, E_VTO, E_COMPS, '#33b8d0')
style(ax, (0.191, 1.237), (-1, 261), [0.2, 0.4, 0.6, 0.8, 1, 1.2], [0, 50, 100, 150, 200, 250])
labels(ax, -0.108, -0.094)

# (f)
ax = px_axes(1037, 277, 1442, 507)
curves(ax, grid(F_T0, F_DT, len(F_Y)), F_Y, F_FIT_T, F_MULTI, F_FIT_T, F_HORS,
       F_FIT_T, F_VTO, F_COMPS, '#8040c0')
style(ax, (0.191, 1.237), (-2, 449), [0.2, 0.4, 0.6, 0.8, 1, 1.2], [0, 100, 200, 300, 400])
labels(ax, -0.114, -0.088)

legend(472, 13, STD_HANDLES)
legend(952, 16, STD_HANDLES)
legend(1437, 12, STD_HANDLES)
legend(472, 281, B_HANDLES)
legend(953, 281, STD_HANDLES)
legend(1437, 282, STD_HANDLES)

for x, y, s in ((7, 9, '(a)'), (507, 9, '(c)'), (972, 9, '(e)'),
                (8, 282, '(b)'), (488, 282, '(d)'), (968, 282, '(f)')):
    fig.text(x / W, 1 - y / H, s, fontsize=12, fontweight='bold', va='top', ha='left')

fig.savefig('out.png', dpi=100)
